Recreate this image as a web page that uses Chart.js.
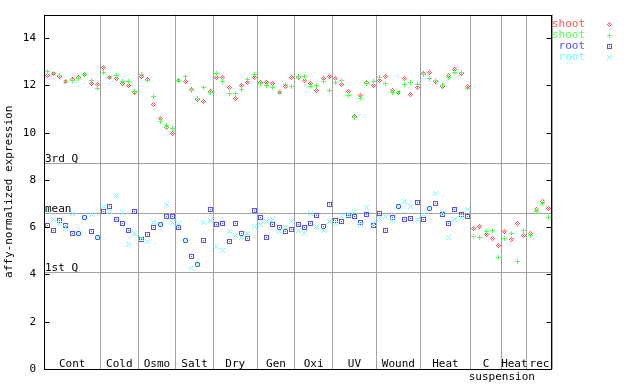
<!DOCTYPE html>
<html>
<head>
<meta charset="utf-8">
<script src="https://cdn.jsdelivr.net/npm/chart.js@4/dist/chart.umd.min.js"></script>
<style>
html, body { margin: 0; padding: 0; background: #fff; }
canvas { display: block; }
</style>
</head>
<body>
<canvas id="chart" width="640" height="384"></canvas>
<script>
'use strict';

// conditions along the x axis, and how many samples each one holds
const groups = ['Cont', 'Cold', 'Osmo', 'Salt', 'Dry', 'Gen', 'Oxi', 'UV', 'Wound', 'Heat', 'C', 'Heat', 'rec'];
const groupSizes = [9, 6, 6, 6, 7, 6, 6, 7, 7, 8, 5, 4, 4];
const yTicks = [0, 2, 4, 6, 8, 10, 12, 14];
const refLabels = ['3rd Q', 'mean', '1st Q'];
const refValues = [8.70, 6.62, 4.09];

const shootA = [
    12.44, 12.50, 12.38, 12.16, 12.25, 12.35, 12.45, 12.07, 12.05,
    12.77, 12.35, 12.28, 12.07, 11.99, 11.72,
    12.38, 12.24, 11.20, 10.59, 10.21, 9.96,
    12.21, 12.18, 11.82, 11.39, 11.34, 11.73,
    12.32, 12.32, 11.90, 11.44, 12.00, 12.14, 12.32,
    12.14, 12.11, 12.07, 11.69, 11.96, 12.32,
    12.35, 12.21, 12.07, 11.79, 12.28, 12.38,
    12.28, 12.03, 11.74, 10.69, 11.58, 12.14, 12.00,
    12.21, 12.38, 11.79, 11.69, 12.28, 11.62, 11.90,
    12.50, 12.53, 12.18, 11.96, 12.42, 12.67, 12.49, 11.96,
    5.94, 6.04, 5.69, 5.52, 5.23,
    5.82, 5.48, 6.16, 5.65,
    5.73, 6.75, 7.08, 6.79,
];
const shootB = [
    12.59, 12.52, 12.42, 12.17, 12.21, 12.28, 12.46, 12.21, 11.86,
    12.53, 12.35, 12.41, 12.17, 12.17, 11.74,
    12.45, 12.21, 11.53, 10.46, 10.30, 10.17,
    12.21, 12.38, 11.79, 11.44, 11.90, 11.72,
    12.49, 12.18, 11.65, 11.65, 11.82, 12.24, 12.45,
    12.07, 12.00, 11.93, 11.69, 12.03, 11.96,
    12.39, 12.39, 11.96, 12.00, 12.17, 11.79,
    12.11, 12.21, 11.56, 10.66, 11.44, 12.07, 12.18,
    12.32, 12.10, 11.72, 11.69, 12.04, 12.13, 12.04,
    12.45, 12.28, 12.21, 12.00, 12.32, 12.53, 12.53, 11.88,
    5.61, 5.56, 5.82, 5.86, 4.72,
    5.52, 5.73, 4.55, 5.86,
    5.65, 6.66, 7.00, 6.41,
];
const rootA = [
    6.07, 5.87, 6.29, 6.07, 5.73, 5.73, 6.43, 5.83, 5.56,
    6.68, 6.89, 6.34, 6.15, 5.87, 6.65,
    5.49, 5.69, 5.99, 6.11, 6.46, 6.44,
    6.01, 5.42, 4.76, 4.42, 5.44, 6.75,
    6.11, 6.15, 5.40, 6.15, 5.73, 5.52, 6.70,
    6.41, 5.56, 6.11, 5.99, 5.82, 5.90,
    6.11, 5.99, 6.15, 6.49, 6.03, 6.96,
    6.28, 6.25, 6.51, 6.45, 6.20, 6.54, 6.07,
    6.58, 5.86, 6.41, 6.86, 6.32, 6.37, 7.04,
    6.32, 6.80, 7.00, 6.53, 6.15, 6.75, 6.53, 6.45,
    null, null, null, null, null,
    null, null, null, null,
    null, null, null, null,
];
const rootB = [
    6.65, 6.34, 6.15, 5.97, 6.58, 5.73, 6.43, 6.53, 5.56,
    6.89, 6.68, 7.35, 6.62, 5.27, 5.73,
    5.52, 5.41, 6.20, 6.11, 6.97, 6.20,
    6.15, 5.42, 4.25, 4.42, 6.20, 6.29,
    5.18, 5.01, 5.80, 5.63, 5.55, 5.73, 6.05,
    6.11, 6.25, 6.32, 5.83, 5.99, 6.25,
    5.87, 5.73, 6.58, 6.03, 5.86, 6.25,
    6.15, 6.45, 6.52, 6.68, 6.08, 6.83, 6.15,
    6.37, 6.45, 6.28, 6.86, 7.10, 6.87, 6.32,
    6.53, 6.80, 7.42, 6.62, 5.56, 6.32, 6.40, 6.75,
    null, null, null, null, null,
    null, null, null, null,
    null, null, null, null,
];

const RED = '#ff5252';
const GREEN = '#52ff52';
const BLUE = '#5252ff';
const CYAN = '#66ffff';
const GRAY = '#a0a0a0';
const FONT = '11px "DejaVu Sans Mono", monospace';

// group edges on the sample index axis
const edges = [0];
groupSizes.forEach(n => edges.push(edges[edges.length - 1] + n));
const total = edges[edges.length - 1];

// small bitmap markers like the gnuplot ones
function glyph(rows, color) {
    const c = document.createElement('canvas');
    c.width = rows[0].length;
    c.height = rows.length;
    const g = c.getContext('2d');
    g.fillStyle = color;
    rows.forEach((r, y) => {
        [...r].forEach((ch, x) => {
            if (ch === '#') {
                g.fillRect(x, y, 1, 1);
            }
        });
    });
    return c;
}

const marks = {
    diamond: glyph(['..#..', '.#.#.', '#.#.#', '.#.#.', '..#..'], RED),
    plus: glyph(['..#..', '..#..', '#####', '..#..', '..#..'], GREEN),
    square: glyph(['#####', '#...#', '#.#.#', '#...#', '#####'], BLUE),
    cross: glyph(['#...#', '.#.#.', '..#..', '.#.#.', '#...#'], CYAN),
};

const legendItems = [
    {text: 'shoot', color: RED, mark: marks.diamond},
    {text: 'shoot', color: GREEN, mark: marks.plus},
    {text: 'root', color: BLUE, mark: marks.square},
    {text: 'root', color: CYAN, mark: marks.cross},
];

function points(values) {
    const pts = [];
    values.forEach((v, i) => {
        if (v !== null) {
            pts.push({x: i + 0.5, y: v});
        }
    });
    return pts;
}

function series(label, values, mark, order) {
    return {
        label: label,
        data: points(values),
        pointStyle: mark,
        pointRadius: 3,
        showLine: false,
        order: order,
    };
}

const crisp = v => Math.round(v) + 0.5;

const decorations = {
    id: 'decorations',
    beforeDatasetsDraw(chart) {
        const {ctx, chartArea: a, scales: {y}} = chart;
        ctx.save();
        ctx.strokeStyle = GRAY;
        ctx.lineWidth = 1;
        refValues.forEach(v => {
            const py = crisp(y.getPixelForValue(v));
            ctx.beginPath();
            ctx.moveTo(a.left, py);
            ctx.lineTo(a.right, py);
            ctx.stroke();
        });
        ctx.restore();
        ctx.imageSmoothingEnabled = false;
    },
    afterDraw(chart) {
        const {ctx, chartArea: a, scales: {x, y}} = chart;
        ctx.save();
        ctx.imageSmoothingEnabled = false;
        // frame and inward ticks
        ctx.strokeStyle = '#000';
        ctx.lineWidth = 1;
        const l = crisp(a.left), r = crisp(a.right) - 1, t = crisp(a.top), b = crisp(a.bottom);
        ctx.strokeRect(l, t, r - l, b - t);
        yTicks.forEach(v => {
            const py = crisp(y.getPixelForValue(v));
            ctx.beginPath();
            ctx.moveTo(l, py);
            ctx.lineTo(l + 5, py);
            ctx.moveTo(r, py);
            ctx.lineTo(r - 5, py);
            ctx.stroke();
        });

        ctx.font = FONT;
        ctx.fillStyle = '#000';
        ctx.textBaseline = 'alphabetic';
        // quartile labels
        ctx.textAlign = 'left';
        refLabels.forEach((txt, i) => {
            ctx.fillText(txt, a.left + 1, Math.round(y.getPixelForValue(refValues[i])) - 1);
        });
        // condition labels
        ctx.textAlign = 'center';
        groups.forEach((g, i) => {
            const cx = (x.getPixelForValue(edges[i]) + x.getPixelForValue(edges[i + 1])) / 2;
            ctx.fillText(g, cx, a.bottom - 2);
        });
        ctx.fillText('suspension', x.getPixelForValue(edges[11]), a.bottom + 11);

        // legend
        legendItems.forEach((it, i) => {
            const cy = 24 + i * 11;
            ctx.textAlign = 'right';
            ctx.textBaseline = 'middle';
            ctx.fillStyle = it.color;
            ctx.fillText(it.text, 585, cy);
            ctx.drawImage(it.mark, 607, cy - 2);
        });
        ctx.restore();
    },
};

new Chart(document.getElementById('chart').getContext('2d'), {
    type: 'scatter',
    data: {
        datasets: [
            series('shoot', shootA, marks.diamond, 4),
            series('shoot', shootB, marks.plus, 3),
            series('root', rootA, marks.square, 2),
            series('root', rootB, marks.cross, 1),
        ],
    },
    options: {
        responsive: false,
        animation: false,
        devicePixelRatio: 1,
        layout: {padding: {top: 13, right: 88, left: 0, bottom: 0}},
        plugins: {
            legend: {display: false},
            tooltip: {enabled: false},
        },
        scales: {
            x: {
                type: 'linear',
                min: 0,
                max: total,
                afterBuildTicks: sc => { sc.ticks = edges.map(v => ({value: v})); },
                afterFit: sc => { sc.height = 15; },
                ticks: {display: false},
                grid: {color: GRAY, lineWidth: 1, drawTicks: false},
                border: {display: false},
            },
            y: {
                min: 0,
                max: 15,
                afterBuildTicks: sc => { sc.ticks = yTicks.map(v => ({value: v})); },
                afterFit: sc => { sc.width = 44; },
                ticks: {
                    color: '#000',
                    font: {family: '"DejaVu Sans Mono", monospace', size: 11},
                    padding: 8,
                },
                grid: {display: false, drawTicks: false},
                border: {display: false},
                title: {
                    display: true,
                    text: 'affy-normalized expression',
                    color: '#000',
                    font: {family: '"DejaVu Sans Mono", monospace', size: 11},
                    padding: {top: 3, bottom: 0},
                },
            },
        },
    },
    plugins: [decorations],
});
</script>
</body>
</html>
